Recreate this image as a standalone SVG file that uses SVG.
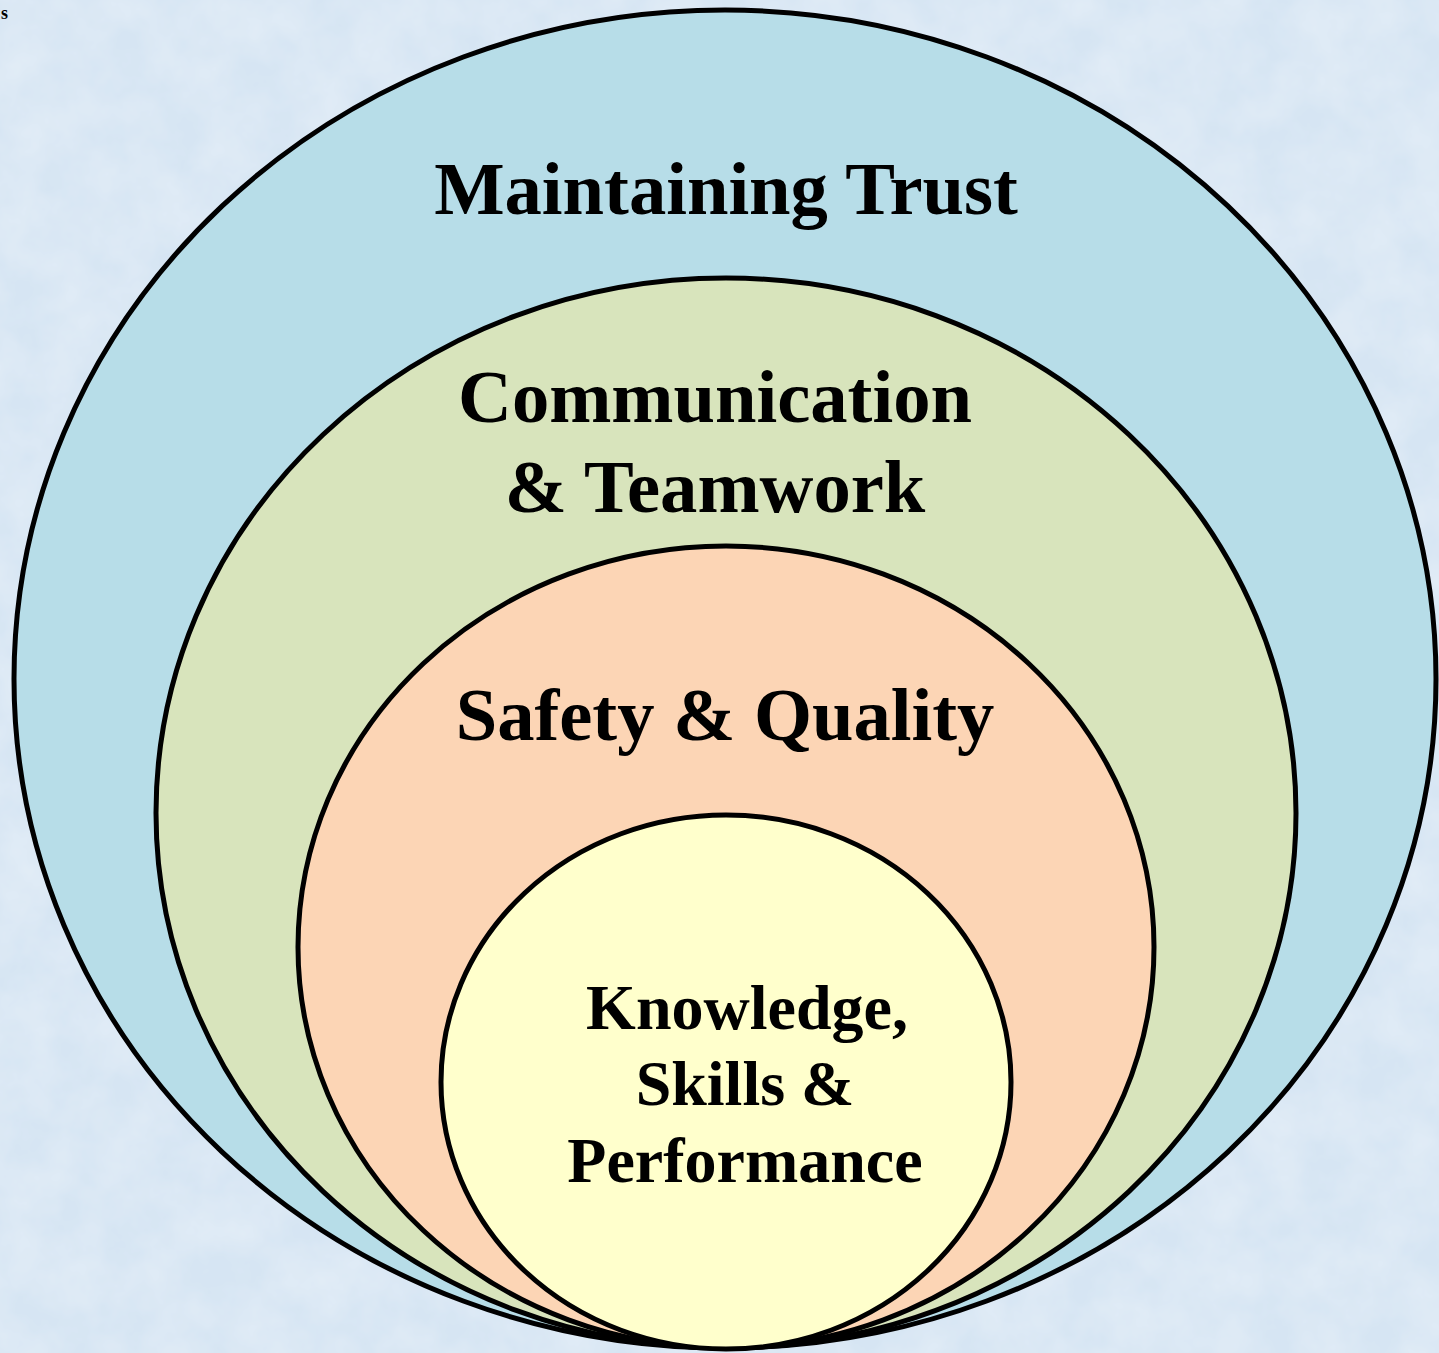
<svg xmlns="http://www.w3.org/2000/svg" width="1439" height="1353" viewBox="0 0 1439 1353">
<style>
.ring{stroke:#000;stroke-width:5}
.lbl{font-family:"Liberation Serif","Times New Roman",serif;font-weight:bold;fill:#000;text-anchor:middle}
</style>
<defs>
<filter id="tex" x="0" y="0" width="100%" height="100%">
<feTurbulence type="fractalNoise" baseFrequency="0.02" numOctaves="4" seed="3" result="n"/>
<feColorMatrix in="n" type="matrix" values="0 0 0 0 1  0 0 0 0 1  0 0 0 0 1  0 0 0 0.4 -0.1" result="w"/>
<feComposite in="w" in2="SourceGraphic" operator="over"/>
</filter>
</defs>
<rect width="1439" height="1353" fill="#D6E5F3" filter="url(#tex)"/>
<text x="1" y="19" style="font-family:'Liberation Serif',serif;font-weight:bold;font-size:18px">s</text>
<g id="trust"><ellipse class="ring" cx="725" cy="679" rx="711" ry="669" fill="#B7DDE8"/><text class="lbl" x="726" y="214" font-size="74.6">Maintaining Trust</text></g>
<g id="comm"><ellipse class="ring" cx="726" cy="813" rx="570" ry="535" fill="#D8E4BC"/><text class="lbl" x="715" y="422" font-size="74.6">Communication</text><text class="lbl" x="715" y="512" font-size="74.6">&amp; Teamwork</text></g>
<g id="safety"><ellipse class="ring" cx="726" cy="947" rx="428" ry="401" fill="#FCD5B5"/><text class="lbl" x="725" y="740" font-size="74.6">Safety &amp; Quality</text></g>
<g id="knowledge"><ellipse class="ring" cx="726" cy="1082" rx="285" ry="267" fill="#FFFFCC"/><text class="lbl" x="747" y="1029" font-size="64">Knowledge,</text><text class="lbl" x="745" y="1105" font-size="64">Skills &amp;</text><text class="lbl" x="745" y="1182" font-size="64">Performance</text></g>
<g id="connectors"/>
</svg>
